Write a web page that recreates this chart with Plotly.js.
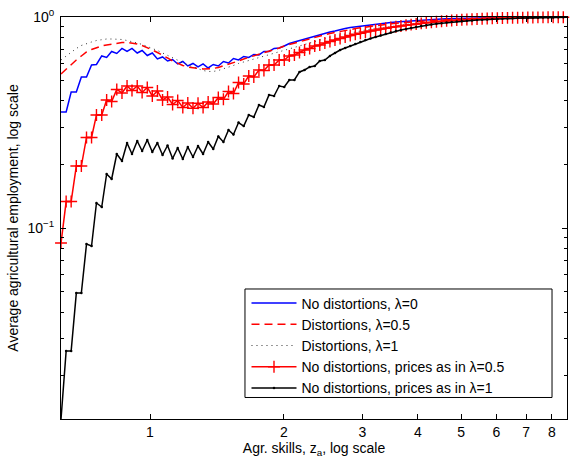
<!DOCTYPE html>
<html>
<head>
<meta charset="utf-8">
<script src="https://cdn.plot.ly/plotly-3.0.1.min.js"></script>
<style>html,body{margin:0;padding:0;background:#fff;}#chart{width:570px;height:458px;}</style>
</head>
<body>
<div id="chart"></div>
<script>
// Agricultural skill grid z_a (log spaced)
var skills = [
0.631,0.648,0.665,0.683,0.701,0.720,0.739,0.758,0.779,0.799,
0.820,0.842,0.865,0.888,0.911,0.936,0.960,0.986,1.012,1.039,
1.067,1.095,1.124,1.154,1.185,1.216,1.249,1.282,1.316,1.351,
1.387,1.424,1.462,1.501,1.540,1.581,1.624,1.667,1.711,1.757,
1.803,1.851,1.900,1.951,2.003,2.056,2.111,2.167,2.225,2.284,
2.345,2.407,2.471,2.537,2.604,2.674,2.745,2.818,2.893,2.970,
3.048,3.130,3.213,3.298,3.386,3.476,3.569,3.663,3.761,3.861,
3.964,4.069,4.177,4.288,4.402,4.520,4.640,4.763,4.890,5.020,
5.153,5.291,5.431,5.576,5.724,5.876,6.033,6.193,6.358,6.527,
6.700,6.879,7.062,7.249,7.442,7.640,7.843,8.052,8.266,8.486,8.712];

var noDistLambda0 = [
0.3547,0.3547,0.4413,0.4413,0.5199,0.5199,0.5925,0.5958,0.6536,0.6430,
0.6864,0.6716,0.7093,0.6864,0.7093,0.6753,0.6940,0.6572,0.6753,0.6326,
0.6465,0.6189,0.6291,0.5990,0.6155,0.5861,0.6023,0.5797,0.5990,0.5734,
0.5958,0.5861,0.6155,0.6056,0.6360,0.6257,0.6500,0.6430,0.6644,0.6608,
0.6864,0.6864,0.7093,0.7132,0.7289,0.7490,0.7613,0.7739,0.7866,0.7996,
0.8128,0.8262,0.8399,0.8491,0.8584,0.8725,0.8821,0.8918,0.8987,0.9065,
0.9135,0.9195,0.9265,0.9316,0.9367,0.9418,0.9469,0.9510,0.9552,0.9594,
0.9636,0.9667,0.9699,0.9731,0.9763,0.9785,0.9806,0.9827,0.9848,0.9870,
0.9891,0.9902,0.9913,0.9924,0.9935,0.9940,0.9946,0.9951,0.9956,0.9962,
0.9967,0.9970,0.9973,0.9975,0.9978,0.9980,0.9982,0.9984,0.9986,0.9988,0.9990];

var distLambda05 = [
0.5371,0.5672,0.5990,0.6257,0.6536,0.6827,0.7016,0.7171,0.7289,0.7369,
0.7449,0.7531,0.7572,0.7572,0.7531,0.7449,0.7329,0.7171,0.6978,0.6790,
0.6608,0.6395,0.6189,0.6023,0.5893,0.5797,0.5734,0.5703,0.5672,0.5672,
0.5703,0.5766,0.5861,0.5958,0.6089,0.6189,0.6326,0.6430,0.6536,0.6644,
0.6753,0.6864,0.6978,0.7132,0.7289,0.7409,0.7531,0.7655,0.7781,0.7910,
0.8040,0.8146,0.8244,0.8353,0.8454,0.8547,0.8640,0.8725,0.8811,0.8889,
0.8967,0.9036,0.9105,0.9165,0.9225,0.9287,0.9336,0.9387,0.9438,0.9480,
0.9521,0.9563,0.9594,0.9626,0.9657,0.9689,0.9721,0.9742,0.9763,0.9785,
0.9806,0.9827,0.9843,0.9859,0.9875,0.9891,0.9902,0.9913,0.9924,0.9935,
0.9946,0.9951,0.9956,0.9960,0.9964,0.9968,0.9972,0.9975,0.9978,0.9981,0.9984];

var distLambda1 = [
0.6257,0.6536,0.6827,0.7093,0.7329,0.7490,0.7613,0.7739,0.7824,0.7866,
0.7866,0.7866,0.7824,0.7739,0.7655,0.7531,0.7409,0.7249,0.7132,0.6940,
0.6753,0.6572,0.6395,0.6223,0.6056,0.5925,0.5797,0.5672,0.5580,0.5520,
0.5520,0.5580,0.5672,0.5766,0.5893,0.6023,0.6122,0.6223,0.6326,0.6430,
0.6536,0.6644,0.6753,0.6864,0.6978,0.7093,0.7210,0.7329,0.7449,0.7572,
0.7697,0.7807,0.7919,0.8023,0.8128,0.8226,0.8325,0.8417,0.8510,0.8593,
0.8678,0.8754,0.8831,0.8898,0.8967,0.9036,0.9095,0.9155,0.9215,0.9265,
0.9316,0.9367,0.9408,0.9450,0.9490,0.9532,0.9563,0.9594,0.9626,0.9657,
0.9689,0.9716,0.9742,0.9769,0.9795,0.9816,0.9838,0.9859,0.9875,0.9891,
0.9908,0.9918,0.9928,0.9937,0.9945,0.9952,0.9959,0.9965,0.9970,0.9975,0.9980];

var pricesLambda05 = [
0.08489,0.1335,0.1335,0.1967,0.1967,0.2686,0.2686,0.3433,0.3433,0.4044,
0.3978,0.4534,0.4365,0.4711,0.4485,0.4711,0.4389,0.4634,0.4224,0.4461,
0.4044,0.4178,0.3850,0.4022,0.3726,0.3914,0.3695,0.3901,0.3726,0.3957,
0.3871,0.4156,0.4074,0.4437,0.4341,0.4894,0.4815,0.5256,0.5199,0.5611,
0.5580,0.5925,0.5925,0.6257,0.6257,0.6536,0.6608,0.6790,0.6978,0.7093,
0.7289,0.7369,0.7531,0.7655,0.7781,0.7910,0.8040,0.8172,0.8280,0.8381,
0.8491,0.8584,0.8678,0.8773,0.8851,0.8928,0.8996,0.9065,0.9135,0.9205,
0.9265,0.9326,0.9387,0.9438,0.9490,0.9542,0.9584,0.9626,0.9667,0.9699,
0.9731,0.9763,0.9790,0.9816,0.9838,0.9859,0.9875,0.9891,0.9902,0.9913,
0.9924,0.9932,0.9940,0.9947,0.9954,0.9960,0.9966,0.9971,0.9976,0.9980,0.9984];

var pricesLambda1 = [
0.01244,0.02613,0.02613,0.04918,0.04918,0.08397,0.08216,0.1314,0.1258,0.1803,
0.1707,0.2243,0.2078,0.2530,0.2243,0.2585,0.2318,0.2613,0.2293,0.2530,
0.2219,0.2461,0.2136,0.2395,0.2124,0.2421,0.2171,0.2448,0.2243,0.2557,
0.2369,0.2715,0.2557,0.2914,0.2774,0.3162,0.3044,0.3433,0.3359,0.3829,
0.3746,0.4271,0.4224,0.4711,0.4660,0.5030,0.5030,0.5490,0.5611,0.5797,
0.5861,0.6189,0.6257,0.6536,0.6753,0.6978,0.7132,0.7289,0.7449,0.7613,
0.7781,0.7910,0.8040,0.8172,0.8307,0.8445,0.8584,0.8678,0.8773,0.8870,
0.8967,0.9065,0.9145,0.9215,0.9287,0.9346,0.9408,0.9459,0.9510,0.9552,
0.9594,0.9636,0.9678,0.9710,0.9742,0.9774,0.9795,0.9816,0.9838,0.9859,
0.9880,0.9891,0.9902,0.9913,0.9924,0.9935,0.9946,0.9956,0.9967,0.9978,0.9989];

var seriesNames = [
  "No distortions, \u03bb=0",
  "Distortions, \u03bb=0.5",
  "Distortions, \u03bb=1",
  "No distortions, prices as in \u03bb=0.5",
  "No distortions, prices as in \u03bb=1"];

var xTickVals = [1,2,3,4,5,6,7,8];
var xTickText = ["1","2","3","4","5","6","7","8"];
var yTickVals = [0.1, 1];
var yTickText = ["10<sup>\u22121</sup>", "10<sup>0</sup>"];
var yMinorVals = [0.02,0.03,0.04,0.05,0.06,0.07,0.08,0.09,0.2,0.3,0.4,0.5,0.6,0.7,0.8,0.9];

var FONT = "Liberation Sans, Arial, Helvetica, sans-serif";

var traces = [
  {x: skills, y: noDistLambda0, name: seriesNames[0], mode: "lines",
   line: {color: "#0000ff", width: 1.5}},
  {x: skills, y: distLambda05, name: seriesNames[1], mode: "lines",
   line: {color: "#ff0000", width: 1.5, dash: "8px,5px"}},
  {x: skills, y: distLambda1, name: seriesNames[2], mode: "lines",
   line: {color: "#333333", width: 1, dash: "1px,4px"}},
  {x: skills, y: pricesLambda05, name: seriesNames[3], mode: "lines+markers",
   line: {color: "#ff0000", width: 1.5},
   marker: {symbol: "cross-thin", size: 8.5, color: "#ff0000", line: {color: "#ff0000", width: 1.4}},
   cliponaxis: false},
  {x: skills, y: pricesLambda1, name: seriesNames[4], mode: "lines+markers",
   line: {color: "#000000", width: 1.5},
   marker: {symbol: "circle", size: 2.5, color: "#000000"},
   cliponaxis: false}
];

var layout = {
  width: 570, height: 458,
  margin: {l: 61, r: 3, t: 17, b: 39},
  paper_bgcolor: "#ffffff", plot_bgcolor: "#ffffff",
  font: {family: FONT, size: 14, color: "#000"},
  showlegend: true,
  shapes: [{type: "rect", xref: "paper", yref: "paper", layer: "above",
    x0: 0.3636, x1: 0.9704, y0: 0.0535, y1: 0.3234,
    fillcolor: "#ffffff", line: {color: "#000000", width: 1}}],
  legend: {x: 0.3666, y: 0.3271, xanchor: "left", yanchor: "top",
    bgcolor: "rgba(0,0,0,0)", borderwidth: 0, itemwidth: 45,
    font: {family: FONT, size: 14, color: "#000"}, tracegroupgap: 0},
  xaxis: {type: "log", range: [-0.2, 0.937],
    tickmode: "array", tickvals: xTickVals, ticktext: xTickText,
    ticks: "inside", ticklen: 5, tickcolor: "#000", tickwidth: 1,
    showline: true, linecolor: "#000", linewidth: 1, mirror: "ticks",
    showgrid: false, zeroline: false,
    tickfont: {family: FONT, size: 14},
    title: {text: "Agr. skills, z<sub>a</sub>, log scale", font: {family: FONT, size: 14}, standoff: 0}},
  yaxis: {type: "log", range: [-1.905, 0],
    tickmode: "array", tickvals: yTickVals, ticktext: yTickText,
    ticks: "inside", ticklen: 5, tickcolor: "#000", tickwidth: 1,
    ticklabelstandoff: 3,
    minor: {tickmode: "array", tickvals: yMinorVals, ticks: "inside", ticklen: 3, tickcolor: "#000", showgrid: false},
    showline: true, linecolor: "#000", linewidth: 1, mirror: "ticks",
    showgrid: false, zeroline: false,
    tickfont: {family: FONT, size: 14},
    title: {text: "Average agricultural employment, log scale", font: {family: FONT, size: 14}, standoff: 5}}
};

Plotly.newPlot("chart", traces, layout, {displayModeBar: false, staticPlot: true});
</script>
</body>
</html>
